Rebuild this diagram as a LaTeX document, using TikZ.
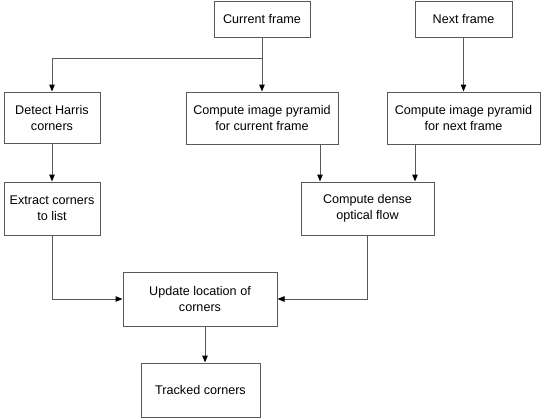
\documentclass[tikz,border=0pt]{standalone}
\usepackage{fontspec}
\setmainfont{Liberation Sans}
\usetikzlibrary{arrows.meta}
\begin{document}
\begin{tikzpicture}[x=1pt,y=-1pt,
  box/.style={draw=black!65,line width=1pt,fill=white,inner sep=0pt,align=center,
    font=\fontsize{12.6}{16}\selectfont},
  conn/.style={draw=black!65,line width=1pt},
  arr/.style={conn,-{Triangle[length=7pt,width=5.5pt,fill=black,color=black]}}]
\useasboundingbox (0,0) rectangle (547,418);
\node[box,minimum width=96pt,minimum height=36pt] (cur) at (262,19) {Current frame};
\node[box,minimum width=97pt,minimum height=36pt] (next) at (463.5,19) {Next frame};
\node[box,minimum width=96pt,minimum height=51pt] (harris) at (52,117.5) {Detect Harris\\corners};
\node[box,minimum width=152pt,minimum height=52pt] (pyrc) at (262,118) {Compute image pyramid\\for current frame};
\node[box,minimum width=153pt,minimum height=52pt] (pyrn) at (463.5,118) {Compute image pyramid\\for next frame};
\node[box,minimum width=96pt,minimum height=53pt] (extract) at (52,208.5) {Extract corners\\to list};
\node[box,minimum width=133pt,minimum height=53pt] (flow) at (367.5,208.5) {Compute dense\\optical flow};
\node[box,minimum width=154pt,minimum height=54pt] (update) at (200,299) {Update location of\\corners};
\node[box,minimum width=119pt,minimum height=54pt] (tracked) at (200.5,390) {Tracked corners};
\coordinate (j) at (262,58);
\draw[conn] (cur.south) -- (j);
\draw[arr] (j) -| (harris.north);
\draw[arr] (j) -- (pyrc.north);
\draw[arr] (next.south) -- (pyrn.north);
\draw[arr] (harris.south) -- (extract.north);
\draw[arr] (pyrc.south -| 320,0) -- (flow.north -| 320,0);
\draw[arr] (pyrn.south -| 415,0) -- (flow.north -| 415,0);
\draw[arr] (extract.south) |- (update.west);
\draw[arr] (flow.south) |- (update.east);
\draw[arr] (update.south -| 205,0) -- (tracked.north -| 205,0);
\end{tikzpicture}
\end{document}
